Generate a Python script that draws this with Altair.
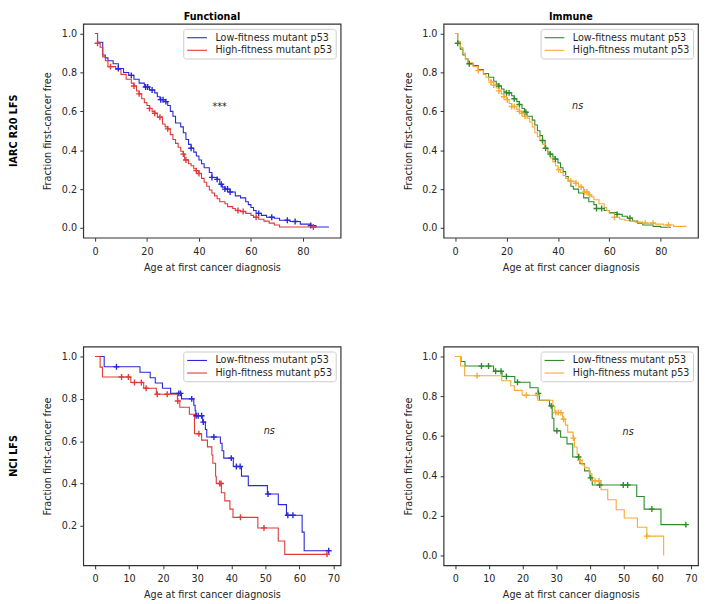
import altair as alt
import pandas as pd

FONT = "DejaVu Sans"
TXT = "#262626"
FRAME = "#333333"
LOW = "Low-fitness mutant p53"
HIGH = "High-fitness mutant p53"

# ---------------- IARC R20 LFS / Functional ----------------
iarc_func_low_t = [0,1,3,4,5,7,9,11,13,15,17,19,21,23,24,25,27,28,29,30,31,33,34,35,36,37,38,39,40,41,42,44,45,47,48,49,50,52,54,56,58,59,60,61,62,64,66,69,71,75,79,83,85,90]
iarc_func_low_s = [1.0,0.955,0.89,0.875,0.86,0.845,0.82,0.80,0.785,0.765,0.745,0.725,0.71,0.695,0.675,0.66,0.65,0.63,0.60,0.575,0.54,0.52,0.49,0.455,0.43,0.41,0.39,0.37,0.35,0.33,0.31,0.285,0.26,0.25,0.225,0.21,0.2,0.185,0.165,0.155,0.135,0.12,0.105,0.09,0.075,0.065,0.055,0.05,0.04,0.033,0.02,0.013,0.005,0.005]
iarc_func_low_ct = [9,14,19.5,20.3,22,25.3,26.2,27.3,37,45,47,48.6,50,51,52,63,68,74,77,83]
iarc_func_low_cs = [0.82,0.785,0.725,0.725,0.71,0.66,0.66,0.65,0.41,0.26,0.25,0.225,0.2,0.2,0.185,0.075,0.055,0.04,0.033,0.013]
iarc_func_high_t = [0,1,2,3,4,5,8,10,12,14,15,16,17,18,19,20,21,22,23,24,26,27,28,29,30,31,32,33,34,34.5,36,37,38,39,40,41,42,43,44,45,46,47,48,50,51,53,54,56,58,60,61,63,65,67,69,71,85]
iarc_func_high_s = [1.0,0.95,0.93,0.88,0.86,0.83,0.815,0.79,0.765,0.745,0.73,0.705,0.69,0.665,0.645,0.63,0.615,0.6,0.59,0.57,0.535,0.52,0.51,0.48,0.455,0.435,0.415,0.395,0.38,0.35,0.33,0.32,0.305,0.295,0.28,0.255,0.235,0.215,0.195,0.18,0.165,0.15,0.135,0.125,0.11,0.1,0.09,0.085,0.075,0.065,0.055,0.045,0.035,0.025,0.015,0.005,0.005]
iarc_func_high_ct = [1,6,15,17,21,23,25,28,34,35,39,40,55,57,62,84]
iarc_func_high_cs = [0.95,0.83,0.73,0.69,0.615,0.59,0.57,0.51,0.38,0.35,0.295,0.28,0.09,0.085,0.055,0.005]

# ---------------- IARC R20 LFS / Immune ----------------
iarc_imm_low_t = [0,1,2,3,4,5,7,9,11,13,15,16,17,18,19,20,22,23,24,25,26,27,28,30,31,32,33,34,35,36,37,38,39,40,41,42,43,44,45,46,48,50,52,54,55,58,60,63,65,67,69,71,73,77,80,84]
iarc_imm_low_s = [1.0,0.95,0.92,0.89,0.87,0.845,0.835,0.815,0.795,0.775,0.755,0.74,0.73,0.715,0.70,0.695,0.68,0.665,0.65,0.635,0.615,0.595,0.575,0.555,0.53,0.50,0.475,0.45,0.41,0.39,0.38,0.365,0.355,0.335,0.31,0.29,0.265,0.24,0.215,0.2,0.18,0.155,0.135,0.12,0.1,0.09,0.08,0.07,0.06,0.05,0.035,0.025,0.015,0.008,0.004,0.004]
iarc_imm_low_ct = [1,5.5,17,20,21,23,25,27,27.5,34,35.2,37,39,55,57,63,68]
iarc_imm_low_cs = [0.95,0.845,0.73,0.695,0.695,0.665,0.635,0.595,0.595,0.45,0.41,0.38,0.355,0.1,0.1,0.07,0.05]
iarc_imm_high_t = [0,1,2,3,4,5,7,9,11,12,13,14,15,16,17,18,19,20,21,22,24,25,26,27,28,29,30,31,32,33,34,35,36,37,38,39,40,41,42,43,44,45,47,48,49,50,52,53,54,56,58,59,60,62,64,66,68,70,73,78,81,85,90]
iarc_imm_high_s = [1.0,0.96,0.93,0.90,0.87,0.85,0.83,0.81,0.79,0.775,0.76,0.75,0.735,0.72,0.705,0.69,0.675,0.66,0.64,0.625,0.61,0.60,0.59,0.575,0.565,0.545,0.52,0.49,0.47,0.45,0.43,0.41,0.385,0.36,0.34,0.32,0.30,0.285,0.27,0.255,0.245,0.24,0.23,0.215,0.21,0.185,0.17,0.16,0.145,0.125,0.105,0.09,0.075,0.055,0.045,0.04,0.035,0.03,0.025,0.02,0.015,0.008,0.008]
iarc_imm_high_ct = [9,14,15,17,19,20.3,22,23,25,26,27.2,40.3,45,47,49,50.4,51.3,52.3,62,74,77,83]
iarc_imm_high_cs = [0.81,0.75,0.735,0.705,0.675,0.66,0.625,0.625,0.60,0.59,0.575,0.30,0.24,0.23,0.21,0.185,0.185,0.17,0.055,0.025,0.025,0.015]

# ---------------- NCI LFS / Functional ----------------
nci_func_low_t = [0,2.7,13.2,16.2,17.7,19.8,22.2,25.4,29.0,29.4,29.6,31.6,32.4,32.8,36.8,37.3,37.8,40.6,43.0,45.0,50.6,53.8,56.2,60.8,61.4,68.7]
nci_func_low_s = [1.0,0.952,0.926,0.90,0.875,0.85,0.826,0.80,0.77,0.745,0.72,0.69,0.655,0.62,0.59,0.555,0.52,0.48,0.435,0.39,0.35,0.30,0.25,0.17,0.082,0.082]
nci_func_low_ct = [6.3,24.6,25.1,28.4,29.7,30.3,31.3,31.8,34.9,40.0,41.5,42.6,50.8,56.6,58.1,68.6]
nci_func_low_cs = [0.952,0.826,0.826,0.80,0.72,0.72,0.72,0.69,0.62,0.52,0.48,0.48,0.35,0.25,0.25,0.082]
nci_func_high_t = [0,1.5,2.2,10.5,14.3,18.0,24.2,24.9,27.7,29.2,31.3,33.0,34.3,34.6,35.4,35.6,37.1,38.1,39.6,40.5,47.8,53.8,55.7,68.1]
nci_func_high_s = [1.0,0.95,0.903,0.877,0.85,0.822,0.79,0.76,0.727,0.635,0.605,0.573,0.535,0.496,0.434,0.40,0.356,0.318,0.279,0.24,0.19,0.128,0.065,0.065]
nci_func_high_ct = [7.8,9.8,11.6,13.6,15.0,18.3,21.2,24.3,30.5,36.6,37.0,42.7,49.6,68.1]
nci_func_high_cs = [0.903,0.903,0.877,0.877,0.85,0.822,0.822,0.79,0.635,0.40,0.40,0.24,0.19,0.065]

# ---------------- NCI LFS / Immune ----------------
nci_imm_low_t = [0,1.7,2.9,11.4,13.9,17.7,22.2,24.6,25.0,28.0,28.8,29.3,31.3,33.2,34.9,37.0,38.4,40.0,40.7,53.9,56.1,61.1,68.7]
nci_imm_low_s = [1.0,0.975,0.952,0.926,0.90,0.871,0.843,0.815,0.78,0.752,0.69,0.627,0.594,0.561,0.495,0.461,0.425,0.39,0.354,0.296,0.233,0.155,0.155]
nci_imm_low_ct = [7.8,9.9,12.0,13.6,15.2,18.5,24.7,28.5,30.2,36.6,40.2,42.9,49.9,51.2,58.4,68.5]
nci_imm_low_cs = [0.952,0.952,0.926,0.926,0.90,0.871,0.815,0.752,0.627,0.495,0.39,0.354,0.354,0.354,0.233,0.155]
nci_imm_high_t = [0,1.6,2.8,13.8,16.5,17.6,19.9,24.5,29.0,29.6,31.9,32.7,33.4,35.0,35.4,36.2,36.8,37.7,38.4,39.8,40.6,43.3,45.3,47.8,50.2,54.1,56.9,61.9]
nci_imm_high_s = [1.0,0.952,0.903,0.878,0.853,0.83,0.805,0.78,0.75,0.718,0.685,0.655,0.62,0.59,0.545,0.51,0.478,0.455,0.44,0.41,0.375,0.33,0.28,0.23,0.188,0.142,0.097,0.0]
nci_imm_high_ct = [6.5,21.1,24.4,29.9,30.6,31.4,32.2,35.1,37.1,41.5,42.7,56.9]
nci_imm_high_cs = [0.903,0.805,0.805,0.718,0.718,0.718,0.685,0.59,0.478,0.375,0.375,0.097]

# ---------------- styling / ticks ----------------
functional_colors = ["#2929d9", "#e03a3a"]
immune_colors = ["#2e8b2e", "#f5ab35"]
ticks_top_x = [0, 20, 40, 60, 80]
ticks_bot_x = [0, 10, 20, 30, 40, 50, 60, 70]
ticks_y_full = [0.0, 0.2, 0.4, 0.6, 0.8, 1.0]
ticks_y_nci_func = [0.2, 0.4, 0.6, 0.8, 1.0]
col_titles = ["Functional", "Immune"]
row_labels = ["IARC R20 LFS", "NCI LFS"]
annotations = ["***", "ns", "ns", "ns"]

PLUS = "M-1,0H1M0,-1V1"


def frame(t, s, label):
    return pd.DataFrame({"t": t, "s": s, "group": label})


def panel(low, high, colors, xdom, ydom, xticks, yticks, w, h, annot,
          col_title=None, row_label=None):
    lines = pd.concat([frame(low[0], low[1], LOW), frame(high[0], high[1], HIGH)])
    cens = pd.concat([frame(low[2], low[3], LOW), frame(high[2], high[3], HIGH)])
    xs = alt.Scale(domain=xdom, nice=False, zero=False)
    ys = alt.Scale(domain=ydom, nice=False, zero=False)
    cs = alt.Scale(domain=[LOW, HIGH], range=colors)
    xax = alt.Axis(values=xticks, format="d", title="Age at first cancer diagnosis",
                   labelPadding=5, titlePadding=6.7)
    yax = alt.Axis(values=yticks, format=".1f", title="Fraction first-cancer free",
                   labelPadding=3.2, titlePadding=8.5)
    leg = alt.Legend(title=None, orient="top-right", offset=5, padding=3,
                     strokeColor="#cccccc", fillColor="#ffffff", cornerRadius=2.5,
                     symbolType="M-1,0H3", symbolSize=100, symbolStrokeWidth=1.1,
                     labelOffset=17.5, rowPadding=1.7, labelFontSize=9.7,
                     labelColor=TXT, labelFont=FONT, labelLimit=300)
    x = alt.X("t:Q", scale=xs, axis=xax)
    y = alt.Y("s:Q", scale=ys, axis=yax)
    line = alt.Chart(lines).mark_line(interpolate="step-after", strokeWidth=1.1).encode(
        x=x, y=y, color=alt.Color("group:N", scale=cs, legend=leg))
    pts = alt.Chart(cens).mark_point(shape=PLUS, size=36, strokeWidth=1.4, filled=False,
                                     opacity=1).encode(
        x=x, y=y, color=alt.Color("group:N", scale=cs, legend=None))
    ann = alt.Chart(pd.DataFrame({"t": [annot[0]], "s": [annot[1]], "label": [annot[2]]})).mark_text(
        align="left", baseline="alphabetic", fontSize=9.7, color=TXT, font=FONT,
        fontStyle=annot[3]).encode(x=x, y=y, text="label:N")
    layers = [line, pts, ann]
    if row_label is not None:
        layers.append(alt.Chart(pd.DataFrame({"label": [row_label]})).mark_text(
            angle=270, fontWeight="bold", fontSize=9.7, baseline="middle", align="center",
            color="black", font=FONT).encode(
            x=alt.value(-69.7), y=alt.value(h / 2), text="label:N"))
    if col_title is not None:
        layers.append(alt.Chart(pd.DataFrame({"label": [col_title]})).mark_text(
            fontWeight="bold", fontSize=9.7, baseline="top", align="center",
            color="black", font=FONT).encode(
            x=alt.value(w / 2), y=alt.value(-11.5), text="label:N"))
    return alt.layer(*layers).properties(width=w, height=h)


p11 = panel((iarc_func_low_t, iarc_func_low_s, iarc_func_low_ct, iarc_func_low_cs),
            (iarc_func_high_t, iarc_func_high_s, iarc_func_high_ct, iarc_func_high_cs),
            functional_colors, [-4.5, 94.5], [-0.05, 1.05], ticks_top_x, ticks_y_full,
            260, 216, (45.2, 0.607, annotations[0], "normal"),
            col_title=col_titles[0], row_label=row_labels[0])
p12 = panel((iarc_imm_low_t, iarc_imm_low_s, iarc_imm_low_ct, iarc_imm_low_cs),
            (iarc_imm_high_t, iarc_imm_high_s, iarc_imm_high_ct, iarc_imm_high_cs),
            immune_colors, [-4.5, 94.5], [-0.05, 1.05], ticks_top_x, ticks_y_full,
            257, 216, (45.5, 0.611, annotations[1], "italic"),
            col_title=col_titles[1])
p21 = panel((nci_func_low_t, nci_func_low_s, nci_func_low_ct, nci_func_low_cs),
            (nci_func_high_t, nci_func_high_s, nci_func_high_ct, nci_func_high_cs),
            functional_colors, [-3.45, 72.1], [0.013, 1.047], ticks_bot_x, ticks_y_nci_func,
            260, 221, (49.5, 0.635, annotations[2], "italic"),
            row_label=row_labels[1])
p22 = panel((nci_imm_low_t, nci_imm_low_s, nci_imm_low_ct, nci_imm_low_cs),
            (nci_imm_high_t, nci_imm_high_s, nci_imm_high_ct, nci_imm_high_cs),
            immune_colors, [-3.45, 72.1], [-0.05, 1.05], ticks_bot_x, ticks_y_full,
            257, 221, (49.7, 0.607, annotations[3], "italic"))

chart = alt.concat(p11, p12, p21, p22, columns=2,
                   spacing={"row": 110, "column": 104}, bounds="flush",
                   padding={"left": 0, "top": 0, "right": 0, "bottom": 0}).resolve_scale(
    color="independent", x="independent", y="independent").resolve_legend(
    color="independent").configure(font=FONT).configure_view(
    stroke=FRAME, strokeWidth=1.2).configure_axis(
    domain=False, grid=False, ticks=True, tickSize=3.5, tickColor=FRAME, tickWidth=1,
    labelFontSize=9.7, titleFontSize=9.7, labelColor=TXT, titleColor=TXT,
    titleFontWeight="normal", labelFont=FONT, titleFont=FONT)

chart.save("out.html", embed_options={"renderer": "svg", "actions": False})
